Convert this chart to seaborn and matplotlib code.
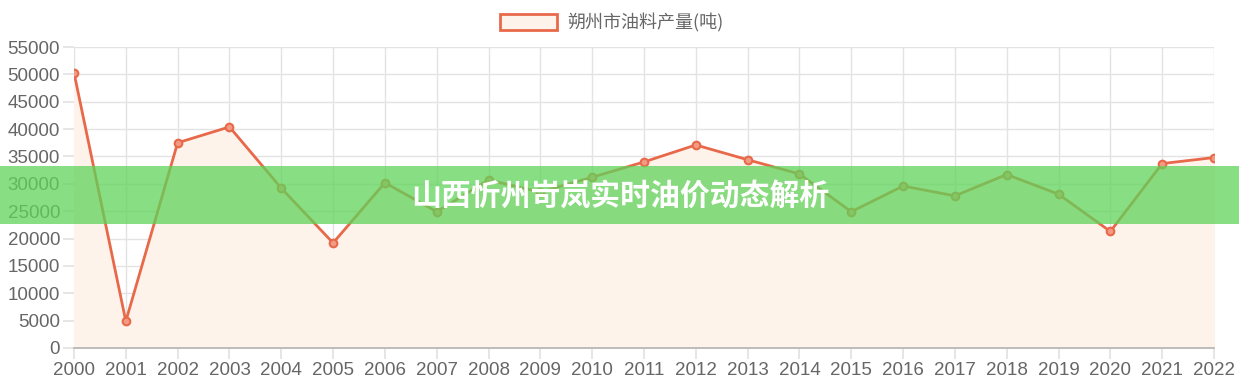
import numpy as np
import pandas as pd
import matplotlib
matplotlib.use('Agg')
import matplotlib.pyplot as plt
import seaborn as sns
from matplotlib.patches import Patch, Rectangle

# dados
anos = [str(a) for a in range(2000, 2023)]
producao = [50300, 4900, 37500, 40400, 29200, 19200, 30200, 24900, 30700, 28500,
            31200, 34000, 37100, 34400, 31800, 24900, 29600, 27800, 31700, 28100,
            21300, 33700, 34800]
serie_nome = '朔州市油料产量(吨)'
titulo_banner = '山西忻州岢岚实时油价动态解析'
y_ticks = list(range(0, 55001, 5000))

df = pd.DataFrame({'ano': anos, 'valor': producao})
df['pos'] = np.arange(len(anos))

sns.set_theme(style='white')
plt.rcParams['font.family'] = ['Liberation Sans', 'Noto Sans CJK SC', 'DejaVu Sans']

linha = '#e8694a'
preench = '#fef3ea'

fig = plt.figure(figsize=(12.39, 3.9), dpi=100)
ax = fig.add_axes([74 / 1239, 1 - 348 / 390, (1214 - 74) / 1239, (348 - 47) / 390])

ax.fill_between(df['pos'], df['valor'], 0, color=preench, zorder=1)
sns.lineplot(data=df, x='pos', y='valor', ax=ax, color=linha, linewidth=2,
             marker='o', markersize=5.5, markerfacecolor='#f29a84',
             markeredgecolor=linha, markeredgewidth=1.5, zorder=3)

ax.set_xlim(0, len(anos) - 1)
ax.set_ylim(0, 55000)
ax.set_xticks(df['pos'])
ax.set_xticklabels(anos)
ax.set_yticks(y_ticks)
ax.set_xlabel('')
ax.set_ylabel('')
ax.grid(True, color='#e3e3e3', linewidth=1, zorder=0)
ax.set_axisbelow(True)
for s in ['top', 'right', 'left']:
    ax.spines[s].set_visible(False)
ax.spines['bottom'].set_color('#b5b5b5')
ax.tick_params(axis='both', length=8, color='#e3e3e3', labelcolor='#666666',
               labelsize=13.5, pad=2, bottom=True, left=True)

# legenda no topo
h = Patch(facecolor=preench, edgecolor=linha, linewidth=2)
fig.legend([h], [serie_nome], loc='center', bbox_to_anchor=(0.5 - 8 / 1239, 1 - 23 / 390),
           frameon=False, labelcolor='#666666',
           handlelength=3.2, handleheight=1.0, handletextpad=0.55,
           prop={'family': ['Noto Sans CJK SC', 'DejaVu Sans'], 'size': 13})

# faixa verde com o título
fig.patches.append(Rectangle((0, 1 - 224 / 390), 1, 58 / 390, transform=fig.transFigure,
                             facecolor='#5fd45a', alpha=0.75, edgecolor='none', zorder=10))
fig.text(620 / 1239, 1 - 196 / 390, titulo_banner, ha='center', va='center',
         color='white', fontsize=21.5, fontweight='bold',
         family=['Noto Sans CJK SC', 'DejaVu Sans'], zorder=11)

fig.savefig('out.png', dpi=100)
